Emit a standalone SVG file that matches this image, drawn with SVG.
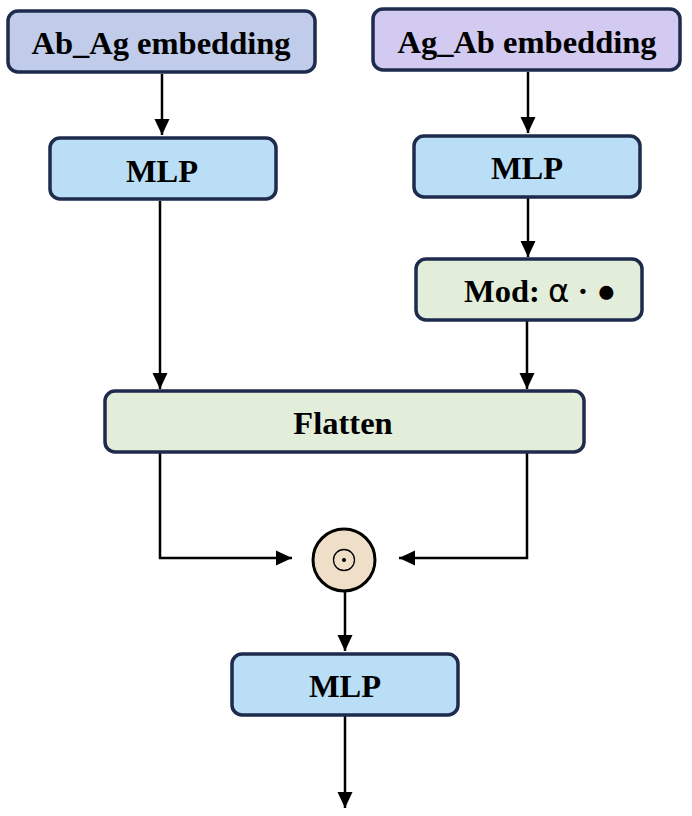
<svg xmlns="http://www.w3.org/2000/svg" width="692" height="816" viewBox="0 0 692 816">
<style>
.box{stroke:#1e2b4d;stroke-width:3.5}
.t{font-family:"Liberation Serif","Times New Roman",serif;font-weight:bold;font-size:32.5px;fill:#000;text-anchor:middle}
.c{stroke:#000;stroke-width:2.5;fill:none}
</style>
<defs>
<marker id="ah" markerUnits="userSpaceOnUse" markerWidth="16" markerHeight="17" viewBox="0 0 17 16" refX="17" refY="8" orient="auto">
<path d="M0,0 L17,8 L0,16 Z" fill="#000"/>
</marker>
</defs>
<rect width="692" height="816" fill="#fff"/>
<g id="connectors">
<line class="c" x1="162" y1="74" x2="162" y2="135" marker-end="url(#ah)"/>
<line class="c" x1="528" y1="72" x2="528" y2="133" marker-end="url(#ah)"/>
<line class="c" x1="528" y1="198" x2="528" y2="257" marker-end="url(#ah)"/>
<line class="c" x1="160" y1="201" x2="160" y2="389" marker-end="url(#ah)"/>
<line class="c" x1="527" y1="321" x2="527" y2="389" marker-end="url(#ah)"/>
<polyline class="c" points="160,452 160,558 292,558" marker-end="url(#ah)"/>
<polyline class="c" points="527,452 527,558 399,558" marker-end="url(#ah)"/>
<line class="c" x1="345" y1="591" x2="345" y2="651" marker-end="url(#ah)"/>
<line class="c" x1="345" y1="716" x2="345" y2="808" marker-end="url(#ah)"/>
</g>
<g id="ab_ag">
<rect class="box" x="8" y="11" width="307" height="61" rx="10" fill="#c0cce9"/>
<text class="t" x="161" y="54">Ab_Ag embedding</text>
</g>
<g id="ag_ab">
<rect class="box" x="373" y="9" width="307" height="61" rx="10" fill="#d2caf0"/>
<text class="t" x="527" y="53">Ag_Ab embedding</text>
</g>
<g id="mlp1">
<rect class="box" x="50" y="138" width="226" height="61" rx="10" fill="#b9def5"/>
<text class="t" x="162" y="182">MLP</text>
</g>
<g id="mlp2">
<rect class="box" x="414" y="136" width="226" height="61" rx="10" fill="#b9def5"/>
<text class="t" x="527" y="179">MLP</text>
</g>
<g id="mod">
<rect class="box" x="416" y="259" width="226" height="61" rx="10" fill="#e2eed9"/>
<text class="t" x="464" y="302" style="text-anchor:start">Mod: <tspan font-family="'DejaVu Sans',sans-serif" font-weight="normal">α</tspan> · ●</text>
</g>
<g id="flatten">
<rect class="box" x="105" y="391" width="479" height="61" rx="10" fill="#e2eed9"/>
<text class="t" x="343" y="434">Flatten</text>
</g>
<g id="hadamard">
<circle cx="344" cy="560" r="31" fill="#efdec8" stroke="#000" stroke-width="3"/>
<circle cx="344" cy="560" r="10.5" fill="none" stroke="#000" stroke-width="1.3"/>
<circle cx="344" cy="560" r="2" fill="#000"/>
</g>
<g id="mlp3">
<rect class="box" x="232" y="654" width="226" height="61" rx="10" fill="#b9def5"/>
<text class="t" x="345" y="697">MLP</text>
</g>
</svg>
